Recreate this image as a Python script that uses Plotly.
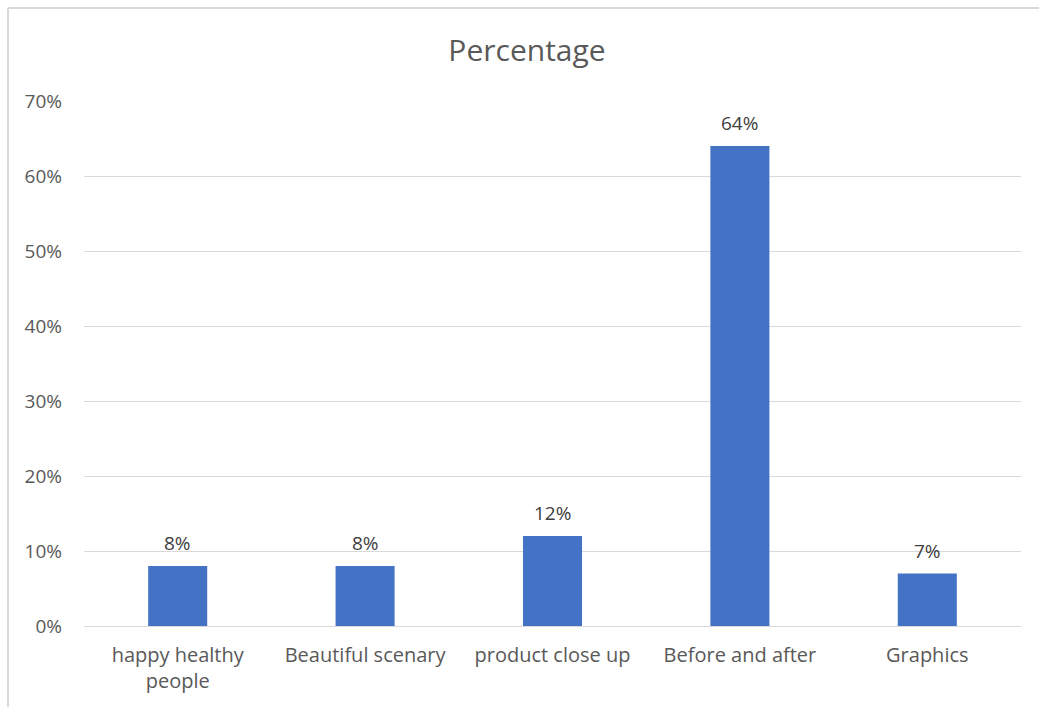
import plotly.graph_objects as go

categories = ["happy healthy<br>people", "Beautiful scenary", "product close up", "Before and after", "Graphics"]
values = [0.08, 0.08, 0.12, 0.64, 0.07]
labels = ["8%", "8%", "12%", "64%", "7%"]
y_ticks = [0, 0.1, 0.2, 0.3, 0.4, 0.5, 0.6, 0.7]
y_tick_text = ["0%", "10%", "20%", "30%", "40%", "50%", "60%", "70%"]

text_color = "#595959"
font_family = "Open Sans, Liberation Sans, sans-serif"

fig = go.Figure(
    go.Bar(
        x=categories,
        y=values,
        marker=dict(color="#4472C4", line=dict(width=0)),
        cliponaxis=False,
    )
)

# value labels sitting above each bar
for cat, val, lab in zip(categories, values, labels):
    fig.add_annotation(
        x=cat, y=val, text=lab, showarrow=False,
        yanchor="bottom", yshift=8,
        font=dict(size=19, color="#404040", family=font_family),
    )

fig.update_layout(
    width=1039,
    height=707,
    paper_bgcolor="white",
    plot_bgcolor="white",
    margin=dict(l=84, r=18, t=101, b=81),
    bargap=0.685,
    showlegend=False,
    font=dict(family=font_family, color=text_color, size=20),
    title=dict(
        text="Percentage",
        xref="paper",
        x=(527 - 84) / 937,
        xanchor="center",
        y=1 - 50 / 707,
        yanchor="middle",
        font=dict(size=30, color=text_color, family=font_family),
    ),
    xaxis=dict(
        showgrid=False,
        showline=True,
        linecolor="#d9d9d9",
        linewidth=1,
        ticks="",
        tickfont=dict(size=20, color=text_color),
        ticklabelstandoff=11,
    ),
    yaxis=dict(
        range=[0, 0.7],
        tickvals=y_ticks,
        ticktext=y_tick_text,
        showgrid=True,
        gridcolor="#d9d9d9",
        gridwidth=1,
        zeroline=False,
        showline=False,
        ticks="",
        tickfont=dict(size=19, color=text_color),
        ticklabelstandoff=21,
    ),
    shapes=[
        dict(type="line", xref="paper", yref="paper",
             x0=-76 / 937, x1=1.1, y0=1 + 93 / 525, y1=1 + 93 / 525,
             line=dict(color="#d9d9d9", width=2)),
        dict(type="line", xref="paper", yref="paper",
             x0=-76 / 937, x1=-76 / 937, y0=-0.2, y1=1 + 93 / 525,
             line=dict(color="#d9d9d9", width=2)),
    ],
)

fig.write_html("out.html")
